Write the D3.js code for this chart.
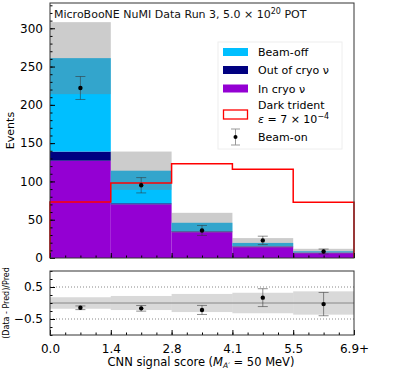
<!DOCTYPE html>
<html>
<head>
<meta charset="utf-8">
<script src="https://cdn.jsdelivr.net/npm/d3@7"></script>
<style>
  body { margin: 0; background: #fff; }
  svg { font-family: "DejaVu Sans", sans-serif; }
</style>
</head>
<body>
<svg id="vis" width="414" height="370"></svg>
<script>
// bin labels (edges of CNN score bins), last one is overflow
const binEdges = ["0.0", "1.4", "2.8", "4.1", "5.5", "6.9+"];
// stacked predictions per bin
const inCryo = [127, 70, 34, 15, 7];
const outCryo = [12, 1.5, 1, 0.5, 0.3];
const beamOff = [122, 42.5, 11, 4.2, 1.5];
const predErr = [47, 25, 13, 6.3, 3.2];
// signal + data
const darkTrident = [73, 98, 123, 116, 72.7];
const beamOn = [222, 95, 36, 23, 8.5];
const beamOnErr = [15, 10, 6.5, 5.5, 3.2];
const yTicks = [0, 50, 100, 150, 200, 250, 300];
const rTicks = [0.5, -0.5];

const SVG = d3.select("#vis");
const LEFT = 50, RIGHT = 354;
const MAIN = {top: 3, bottom: 258};
const RATIO = {top: 271, bottom: 335};

const X = d3.scaleLinear().domain([0, 5]).range([LEFT, RIGHT]);
const Y = d3.scaleLinear().domain([0, 333]).range([MAIN.bottom, MAIN.top]);
const R = d3.scaleLinear().domain([-1, 1]).range([RATIO.bottom, RATIO.top]);

const bins = d3.range(5);
const total = bins.map(i => inCryo[i] + outCryo[i] + beamOff[i]);

// stacked histogram
const layers = [
  {vals: inCryo, color: "#9400d3"},
  {vals: outCryo, color: "#000080"},
  {vals: beamOff, color: "#00bfff"}
];
let base = bins.map(() => 0);
layers.forEach(l => {
  const b0 = base.slice();
  SVG.append("g").selectAll("rect")
    .data(bins)
    .enter()
    .append("rect")
      .attr("x", i => X(i))
      .attr("width", i => X(i + 1) - X(i))
      .attr("y", i => Y(b0[i] + l.vals[i]))
      .attr("height", i => Y(b0[i]) - Y(b0[i] + l.vals[i]))
      .attr("fill", l.color);
  base = base.map((v, i) => v + l.vals[i]);
});

// prediction uncertainty band
SVG.append("g").selectAll("rect")
  .data(bins)
  .enter()
  .append("rect")
    .attr("x", i => X(i))
    .attr("width", i => X(i + 1) - X(i))
    .attr("y", i => Y(total[i] + predErr[i]))
    .attr("height", i => Y(Math.max(0, total[i] - predErr[i])) - Y(total[i] + predErr[i]))
    .attr("fill", "gray")
    .attr("opacity", 0.4);

// dark trident step outline
let pts = [[X(0), Y(0)]];
bins.forEach(i => { pts.push([X(i), Y(darkTrident[i])]); pts.push([X(i + 1), Y(darkTrident[i])]); });
pts.push([X(5), Y(0)]);
SVG.append("path")
  .attr("d", d3.line()(pts))
  .attr("fill", "none")
  .attr("stroke", "red")
  .attr("stroke-width", 1.5);

// data points helper
function drawPoints(g, yOf, loOf, hiOf) {
  const p = g.append("g").selectAll("g").data(bins).enter().append("g");
  p.append("line")
    .attr("x1", i => X(i + 0.5)).attr("x2", i => X(i + 0.5))
    .attr("y1", loOf).attr("y2", hiOf);
  p.append("line")
    .attr("x1", i => X(i + 0.5) - 5).attr("x2", i => X(i + 0.5) + 5)
    .attr("y1", loOf).attr("y2", loOf);
  p.append("line")
    .attr("x1", i => X(i + 0.5) - 5).attr("x2", i => X(i + 0.5) + 5)
    .attr("y1", hiOf).attr("y2", hiOf);
  p.selectAll("line").attr("stroke", "#333").attr("stroke-opacity", 0.55).attr("stroke-width", 1);
  p.append("circle")
    .attr("cx", i => X(i + 0.5)).attr("cy", yOf)
    .attr("r", 2.2).attr("fill", "black");
}
drawPoints(SVG, i => Y(beamOn[i]), i => Y(beamOn[i] - beamOnErr[i]), i => Y(beamOn[i] + beamOnErr[i]));

// inward ticks + frame for a panel
function inwardAxes(yScale, top, bottom, majors, minors, fmt, showX) {
  SVG.append("g")
    .attr("transform", "translate(" + LEFT + ",0)")
    .call(d3.axisLeft(yScale).tickValues(minors).tickSize(-2.5).tickFormat(""))
    .call(g => g.select(".domain").remove());
  SVG.append("g")
    .attr("transform", "translate(" + LEFT + ",0)")
    .call(d3.axisLeft(yScale).tickValues(majors).tickSize(-5).tickPadding(7).tickFormat(fmt))
    .call(g => g.select(".domain").remove())
    .attr("font-size", "12px")
    .attr("font-family", "DejaVu Sans");
  SVG.append("g")
    .attr("transform", "translate(0," + bottom + ")")
    .call(d3.axisBottom(X).tickValues(d3.range(0, 5.01, 0.25)).tickSize(-2.5).tickFormat(""))
    .call(g => g.select(".domain").remove());
  SVG.append("g")
    .attr("transform", "translate(0," + bottom + ")")
    .call(d3.axisBottom(X).tickValues(d3.range(0, 6)).tickSize(-5).tickPadding(9)
      .tickFormat(i => showX ? binEdges[i] : ""))
    .call(g => g.select(".domain").remove())
    .attr("font-size", "12px")
    .attr("font-family", "DejaVu Sans");
  SVG.append("rect")
    .attr("x", LEFT).attr("y", top)
    .attr("width", RIGHT - LEFT).attr("height", bottom - top)
    .attr("fill", "none").attr("stroke", "#333").attr("stroke-width", 1);
}
inwardAxes(Y, MAIN.top, MAIN.bottom, yTicks, d3.range(0, 331, 10), d3.format("d"), false);

// ratio panel
const ratio = bins.map(i => (beamOn[i] - total[i]) / total[i]);
const rErr = bins.map(i => beamOnErr[i] / total[i]);
const relPred = bins.map(i => predErr[i] / total[i]);
SVG.append("g").selectAll("rect")
  .data(bins)
  .enter()
  .append("rect")
    .attr("x", i => X(i))
    .attr("width", i => X(i + 1) - X(i))
    .attr("y", i => R(relPred[i]))
    .attr("height", i => R(-relPred[i]) - R(relPred[i]))
    .attr("fill", "gray")
    .attr("opacity", 0.3);
SVG.append("line")
  .attr("x1", LEFT).attr("x2", RIGHT).attr("y1", R(0)).attr("y2", R(0))
  .attr("stroke", "#888").attr("stroke-width", 1);
rTicks.forEach(v => {
  SVG.append("line")
    .attr("x1", LEFT).attr("x2", RIGHT).attr("y1", R(v)).attr("y2", R(v))
    .attr("stroke", "#888").attr("stroke-width", 1).attr("stroke-dasharray", "1,2");
});
drawPoints(SVG, i => R(ratio[i]), i => R(ratio[i] - rErr[i]), i => R(ratio[i] + rErr[i]));
inwardAxes(R, RATIO.top, RATIO.bottom, rTicks, [-1, -0.75, -0.25, 0, 0.25, 0.75, 1],
  d => d3.format(".1f")(d).replace("-", "\u2212"), true);

// title inside plot
const title = SVG.append("text").attr("x", 54).attr("y", 18).attr("font-size", "11px").attr("fill", "#111");
title.append("tspan").text("MicroBooNE NuMI Data Run 3, 5.0 \u00d7 10");
title.append("tspan").attr("dy", -4).attr("font-size", "8px").text("20");
title.append("tspan").attr("dy", 4).text(" POT");

// axis labels
SVG.append("text")
  .attr("transform", "translate(14," + ((MAIN.top + MAIN.bottom) / 2) + ") rotate(-90)")
  .attr("text-anchor", "middle").attr("font-size", "11px").text("Events");
SVG.append("text")
  .attr("transform", "translate(9," + ((RATIO.top + RATIO.bottom) / 2) + ") rotate(-90)")
  .attr("text-anchor", "middle").attr("font-size", "8px").text("(Data - Pred)/Pred");
const xl = SVG.append("text").attr("x", 201).attr("y", 366)
  .attr("text-anchor", "middle").attr("font-size", "11.5px");
xl.append("tspan").text("CNN signal score (");
xl.append("tspan").attr("font-style", "italic").text("M");
xl.append("tspan").attr("font-style", "italic").attr("font-size", "7.5px").attr("dy", 2).text("A\u2032");
xl.append("tspan").attr("dy", -2).text(" = 50 MeV)");

// legend
const LG = SVG.append("g");
LG.append("rect")
  .attr("x", 218).attr("y", 42).attr("width", 124).attr("height", 107)
  .attr("fill", "white").attr("fill-opacity", 0.8).attr("stroke", "#eee");
const legendPatches = [
  {label: "Beam-off", color: "#00bfff", y: 52},
  {label: "Out of cryo \u03bd", color: "#000080", y: 70},
  {label: "In cryo \u03bd", color: "#9400d3", y: 88.5}
];
legendPatches.forEach(d => {
  LG.append("rect").attr("x", 223).attr("y", d.y - 4).attr("width", 25).attr("height", 8).attr("fill", d.color);
  LG.append("text").attr("x", 258).attr("y", d.y + 4).attr("font-size", "11px").text(d.label);
});
LG.append("rect").attr("x", 223.5).attr("y", 110).attr("width", 24).attr("height", 9)
  .attr("fill", "white").attr("stroke", "red").attr("stroke-width", 1.3);
LG.append("text").attr("x", 258).attr("y", 109).attr("font-size", "11px").text("Dark trident");
const eps = LG.append("text").attr("x", 258).attr("y", 123).attr("font-size", "11px");
eps.append("tspan").attr("font-style", "italic").text("\u03b5");
eps.append("tspan").text(" = 7 \u00d7 10");
eps.append("tspan").attr("dy", -4).attr("font-size", "8px").text("\u22124");
LG.append("line").attr("x1", 235.5).attr("x2", 235.5).attr("y1", 129).attr("y2", 145).attr("stroke", "#999");
LG.append("line").attr("x1", 231).attr("x2", 240).attr("y1", 129).attr("y2", 129).attr("stroke", "#999");
LG.append("line").attr("x1", 231).attr("x2", 240).attr("y1", 145).attr("y2", 145).attr("stroke", "#999");
LG.append("circle").attr("cx", 235.5).attr("cy", 137).attr("r", 2).attr("fill", "black");
LG.append("text").attr("x", 258).attr("y", 141).attr("font-size", "11px").text("Beam-on");
</script>
</body>
</html>
